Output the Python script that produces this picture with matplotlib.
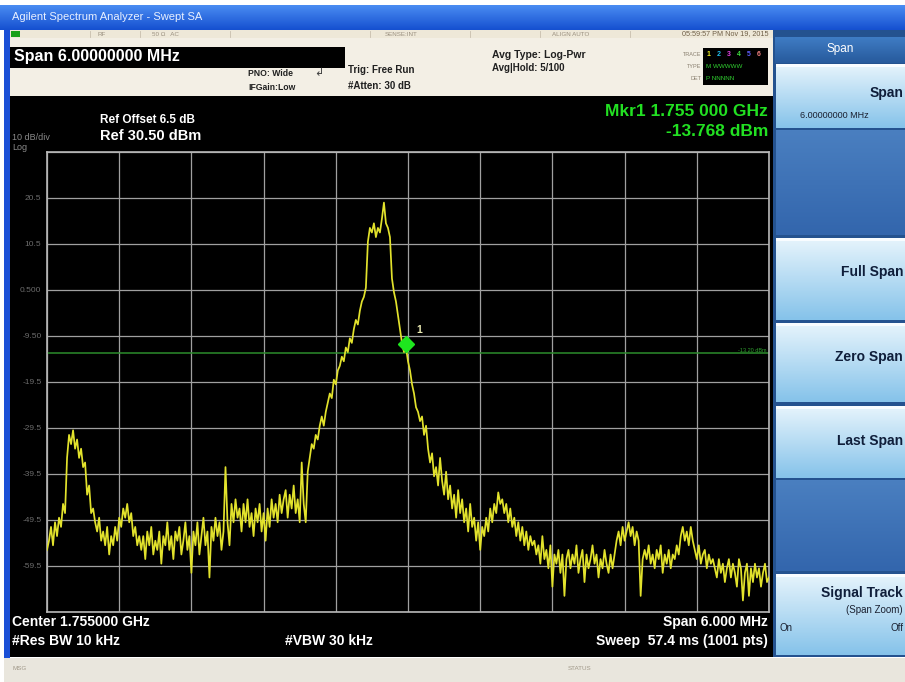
import numpy as np
import matplotlib.pyplot as plt
import matplotlib.transforms as mtransforms
from matplotlib.patches import Rectangle
from matplotlib.colors import LinearSegmentedColormap

plt.rcParams['font.family'] = ['Liberation Sans', 'DejaVu Sans']

# instrument settings
center_ghz = 1.755
span_mhz = 6.0
ref_level = 30.5
db_per_div = 10
display_line = -13.20
mkr_freq = 1.755
mkr_level = -13.768

# trace, left to right (dBm)
trace_dbm = [
    -56, -54, -51, -55, -50, -53, -49, -51, -46, -48,
    -36, -31, -33, -30, -34, -32, -36, -34, -38, -37,
    -44, -42, -48, -47, -50, -52, -49, -54, -52, -55, -51,
    -57, -53, -55, -51, -54, -49, -51, -47, -49, -46, -50, -48, -53, -51, -55, -53,
    -56, -53, -58, -52, -55, -51, -57, -54, -56, -52, -59, -53, -55, -50, -56,
    -53, -58, -52, -54, -51, -57, -54, -50, -56, -53, -61, -52, -55, -50, -57,
    -53, -49, -55, -52, -62, -51, -54, -49, -53, -50, -56,
    -52, -38, -50, -55, -46, -50, -45, -49, -47, -52, -46, -50, -45, -51, -48,
    -53, -47, -50, -46, -52, -48, -54, -47, -51, -45, -49, -46, -50, -44, -48,
    -45, -43, -49, -44, -47, -42, -48, -45, -50, -37, -46, -50, -39,
    -36, -33, -34, -31, -32, -29, -27, -29, -26, -24, -22, -23, -19, -20, -17,
    -16, -14, -15, -12, -13, -10, -11, -8, -6, -7, -4, -2, -1, 1,
    11, 14, 13, 15, 12, 14, 13, 16, 19.5, 15, 14, 12,
    3, 0, -2, -5, -8, -11, -13, -12, -15, -17, -20, -22, -25, -26, -28, -27,
    -31, -29, -34, -37, -35, -40, -38, -42, -36, -41,
    -44, -39, -45, -42, -47, -44, -49, -43, -48, -45, -50, -47, -52, -46, -51,
    -49, -54, -50, -56,
    -51, -53, -49, -52, -47, -50, -46, -48, -43.5, -46,
    -45, -48, -46, -50, -47, -51, -49, -53, -50, -54, -51, -55, -52, -56, -53, -55,
    -54, -57, -55, -59, -53, -58, -56, -60, -55, -64, -57, -59, -56, -61, -57,
    -66, -58, -56, -60, -57, -59, -55, -61, -58, -56, -63, -57, -60, -58, -55,
    -59, -57, -62, -58, -60, -56, -59, -61, -57, -60,
    -57, -54, -52, -55, -51, -54, -52, -50, -53, -51, -55, -52, -54,
    -66, -58,
    -56, -58, -55, -59, -57, -60, -56, -58, -55, -61, -57, -59, -56, -60, -57,
    -58, -55, -57,
    -53, -51, -54, -52, -55, -51, -54,
    -56, -58, -55, -59, -57, -56, -60, -57, -59, -58,
    -60, -62, -58, -61, -59, -63, -60, -58, -62, -59, -61, -64, -58, -60, -67,
    -61, -59, -66, -60, -63, -59, -62, -60, -64, -61, -59, -63, -62,
]

W, H = 905, 682
fig = plt.figure(figsize=(W / 100, H / 100), dpi=100)
fig.patch.set_facecolor('white')

# background axes in pixel units for the instrument window
bg = fig.add_axes([0, 0, 1, 1])
bg.axis('off')


def box(x0, y0, x1, y1, color, z=1):
    bg.add_patch(Rectangle((x0, y0), x1 - x0, y1 - y0, facecolor=color,
                           edgecolor='none', zorder=z))


def grad(x0, y0, x1, y1, c_top, c_bot):
    cmap = LinearSegmentedColormap.from_list('g', [c_top, c_bot])
    bg.imshow(np.linspace(0, 1, 50).reshape(-1, 1), cmap=cmap, zorder=2,
              extent=(x0, x1, y1, y0), aspect='auto', interpolation='bilinear')


def txt(x, y, s, **kw):
    kw.setdefault('va', 'center')
    bg.text(x, y, s, zorder=4, **kw)


# title bar
grad(0, 5, W, 30, '#4a8cf2', '#1550d0')
txt(12, 17, 'Agilent Spectrum Analyzer - Swept SA', color='#e8f0ff', fontsize=8)
# left frame
box(4, 28, 10, 662, '#1a4fd6')

# status row + header
box(10, 30, 773, 38, '#eee8d8')
box(10, 38, 773, 96, '#f3efe5')
box(11, 31, 20, 37, '#18a018')
for sx in [90, 140, 230, 370, 470, 540, 630]:
    bg.plot([sx, sx], [31, 37], color='#c8bfae', lw=0.6, zorder=3)
txt(97, 34, 'RF', color='#9a9080', fontsize=4.5)
txt(152, 34, '50 \u03a9   AC', color='#9a9080', fontsize=4.5)
txt(385, 34, 'SENSE:INT', color='#9a9080', fontsize=4.5)
txt(552, 34, 'ALIGN AUTO', color='#9a9080', fontsize=4.5)
txt(768, 34, '05:59:57 PM Nov 19, 2015', color='#706048', fontsize=5.2, ha='right')

box(10, 47, 345, 68, 'black')
txt(14, 57, 'Span 6.00000000 MHz', color='white', fontsize=11.5, fontweight='bold')
txt(248, 73, 'PNO: Wide', color='#202020', fontsize=6.2, fontweight='bold')
txt(248, 87, 'IFGain:Low', color='#202020', fontsize=6.2, fontweight='bold')
txt(314, 73, '\u21b2', color='#404040', fontsize=8)
txt(348, 70, 'Trig: Free Run', color='#202020', fontsize=7, fontweight='bold')
txt(348, 86, '#Atten: 30 dB', color='#202020', fontsize=7, fontweight='bold')
txt(492, 55, 'Avg Type: Log-Pwr', color='#202020', fontsize=7.5, fontweight='bold')
txt(492, 68, 'Avg|Hold: 5/100', color='#202020', fontsize=7, fontweight='bold')
for ty, lab in [(54, 'TRACE'), (66, 'TYPE'), (78, 'DET')]:
    txt(701, ty, lab, color='#8a8070', fontsize=4, ha='right')
box(703, 48, 768, 85, 'black')
for i, c in enumerate(['#f0f020', '#20c0f0', '#e040e0', '#40e040', '#6060ff', '#f08080']):
    txt(707 + i * 10, 54, str(i + 1), color=c, fontsize=5, fontweight='bold')
txt(706, 66, 'M WWWWW', color='#30d030', fontsize=4.5)
txt(706, 78, 'P NNNNN', color='#30d030', fontsize=4.5)

# black screen
box(10, 96, 773, 657, 'black')
txt(100, 120, 'Ref Offset 6.5 dB', color='white', fontsize=8.5, fontweight='bold')
txt(100, 136, 'Ref 30.50 dBm', color='white', fontsize=10.5, fontweight='bold')
txt(12, 137, '10 dB/div', color='#8a8a8a', fontsize=6.5)
txt(12, 148, 'Log', color='#8a8a8a', fontsize=6.5)
txt(768, 112, 'Mkr1 1.755 000 GHz', color='#22e022', fontsize=12.5,
    fontweight='bold', ha='right')
txt(768, 132, '-13.768 dBm', color='#22e022', fontsize=12.5,
    fontweight='bold', ha='right')
txt(12, 622, 'Center 1.755000 GHz', color='white', fontsize=10, fontweight='bold')
txt(12, 641, '#Res BW 10 kHz', color='white', fontsize=10, fontweight='bold')
txt(285, 641, '#VBW 30 kHz', color='white', fontsize=10, fontweight='bold')
txt(768, 622, 'Span 6.000 MHz', color='white', fontsize=10, fontweight='bold', ha='right')
txt(768, 641, 'Sweep  57.4 ms (1001 pts)', color='white', fontsize=10,
    fontweight='bold', ha='right')

# bottom message bar
box(4, 658, W, 682, '#e9e6dd')
txt(12, 668, 'MSG', color='#a09888', fontsize=4.5)
txt(568, 668, 'STATUS', color='#a09888', fontsize=4.5)

# softkey panel
box(773, 30, W, 657, '#24528f')
grad(775, 37, W, 63, '#3f7cc4', '#275a9c')
txt(840, 49, 'Span', color='white', fontsize=8.5, ha='center')
keys = [(64, 128), (238, 320), (323, 402), (406, 478), (574, 655)]
for y0, y1 in keys:
    grad(776, y0, W, y1, '#e6f4fc', '#86c3ea')
    box(776, y0, W, y0 + 3, '#f8fcff', z=3)
grad(776, 130, W, 235, '#4a7fc0', '#3366ad')
grad(776, 480, W, 571, '#4a7fc0', '#3366ad')
kw = dict(color='#0f1e3a', fontweight='bold', ha='right')
txt(903, 93, 'Span', fontsize=10, **kw)
txt(800, 116, '6.00000000 MHz', color='#1a2030', fontsize=6.5)
txt(903, 272, 'Full Span', fontsize=10, **kw)
txt(903, 357, 'Zero Span', fontsize=10, **kw)
txt(903, 441, 'Last Span', fontsize=10, **kw)
txt(903, 593, 'Signal Track', fontsize=10, **kw)
txt(903, 610, '(Span Zoom)', color='#1a2030', fontsize=7, ha='right')
txt(779, 628, 'On', color='#1a2030', fontsize=7)
txt(903, 628, 'Off', color='#1a2030', fontsize=7, ha='right')

bg.set_xlim(0, W)
bg.set_ylim(H, 0)

# graticule with the trace
ax = fig.add_axes([47 / W, 1 - 612 / H, 722 / W, 460 / H])
ax.set_facecolor('black')
f_start = center_ghz - span_mhz / 2000
f_stop = center_ghz + span_mhz / 2000
freqs = np.linspace(f_start, f_stop, len(trace_dbm))
ax.plot(freqs, trace_dbm, color='#e2e22c', lw=1.25, zorder=3)
ax.axhline(display_line, color='#2c8c2c', lw=1.1, zorder=2)
ax.text(0.997, display_line, '-13.20 dBm', color='#2fa02f', fontsize=4,
        ha='right', va='bottom', transform=ax.get_yaxis_transform())

mk_tr = mtransforms.offset_copy(ax.transData, fig=fig, x=-2, y=12, units='dots')
ax.plot([mkr_freq], [mkr_level], marker='D', ms=8, color='#1ee61e',
        transform=mk_tr, zorder=4)
ax.annotate('1', (mkr_freq, mkr_level), xytext=(6, 16), textcoords='offset points',
            color='#e8e8b0', fontsize=7.5, fontweight='bold')

bottom = ref_level - 10 * db_per_div
ax.set_xlim(f_start, f_stop)
ax.set_ylim(bottom, ref_level)
ax.set_xticks(np.linspace(f_start, f_stop, 11))
yt = np.linspace(bottom, ref_level, 11)
ax.set_yticks(yt)


def lab(v):
    if abs(v) < 1:
        return f'{v:.3f}'
    if abs(v) < 10:
        return f'{v:.2f}'
    return f'{v:.1f}'


ax.set_yticklabels([''] + [lab(v) for v in yt[1:-1]] + [''])
ax.grid(color='#a0a0a0', lw=0.9, zorder=1)
ax.tick_params(length=0, labelbottom=False, labelcolor='#6c6c6c',
               labelsize=6, pad=4)
for s in ax.spines.values():
    s.set_color('#b8b8b8')
    s.set_linewidth(1.2)

fig.savefig('out.png', dpi=100, facecolor=fig.get_facecolor())
